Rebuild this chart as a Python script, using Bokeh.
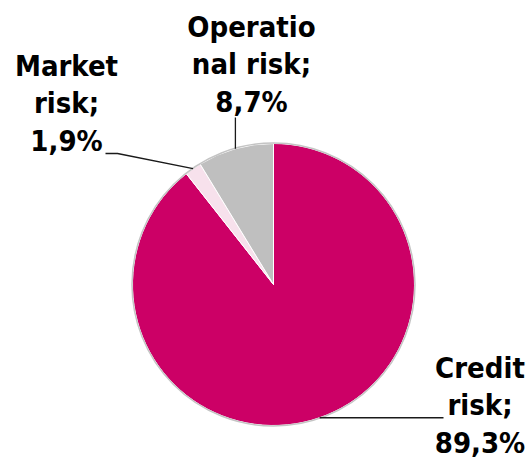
import numpy as np
from bokeh.plotting import figure
from bokeh.models import Range1d
from bokeh.core.properties import value
from bokeh.embed import file_html
from bokeh.resources import INLINE

# ---- data ----
categories = ["Credit risk", "Market risk", "Operational risk"]
shares = [89.3, 1.9, 8.7]
label_lines = [["Credit", "risk;"], ["Market", "risk;"], ["Operatio", "nal risk;"]]
colors = ["#CC0066", "#F7E1EC", "#BFBFBF"]

# ---- layout (picture pixel coordinates) ----
W, H = 532, 460
PAD = 0
def dx(sx):
    return sx - PAD
def dy(sy):
    return (H + PAD) - sy

center_page = (273, 284)
R = 141
first_baseline = [(479.5, 367), (66, 65), (251, 26)]
line_step = 37.5
FONT = "DejaVu Sans Condensed"
FSIZE = "29px"

p = figure(width=W, height=H, output_backend="svg", toolbar_location=None,
           x_range=Range1d(0, W), y_range=Range1d(0, H), min_border=0)
p.axis.visible = False
p.grid.visible = False
p.outline_line_color = None
p.background_fill_color = "white"
p.border_fill_color = "white"

cx, cy = dx(center_page[0]), dy(center_page[1])
vals = np.array(shares, dtype=float)
frac = vals / vals.sum()
cend = np.cumsum(frac)
cstart = cend - frac
start_ang = np.pi / 2 - 2 * np.pi * cend
end_ang = np.pi / 2 - 2 * np.pi * cstart
mid_ang = np.pi / 2 - np.pi * (cstart + cend)

p.wedge(x=[cx] * 3, y=[cy] * 3, radius=R, start_angle=list(start_ang),
        end_angle=list(end_ang), fill_color=colors, line_color="white", line_width=1)
p.circle(x=[cx], y=[cy], radius=R + 0.5, fill_color=None, line_color="#c4c4c4", line_width=1.5)

ex = cx + R * np.cos(mid_ang)
ey = cy + R * np.sin(mid_ang)

# leader lines
leaders = [
    ([ex[0], dx(443)], [ey[0], ey[0]]),
    ([ex[1], dx(117), dx(105)], [ey[1], dy(153), dy(153)]),
    ([ex[2], ex[2]], [ey[2], dy(117)]),
]
for xs, ys in leaders:
    p.line(xs, ys, line_color="#1a1a1a", line_width=1.3)

# labels
for i in range(len(categories)):
    lines = label_lines[i] + [("%.1f" % shares[i]).replace(".", ",") + "%"]
    bx, by = first_baseline[i]
    tx = [dx(bx)] * len(lines)
    ty = [dy(by + k * line_step) for k in range(len(lines))]
    p.text(x=tx, y=ty, text=lines, text_align="center", text_baseline="alphabetic",
           text_font=value(FONT), text_font_size=FSIZE, text_font_style="bold",
           text_color="#000000")

open("out.html", "w").write(file_html(p, INLINE))
